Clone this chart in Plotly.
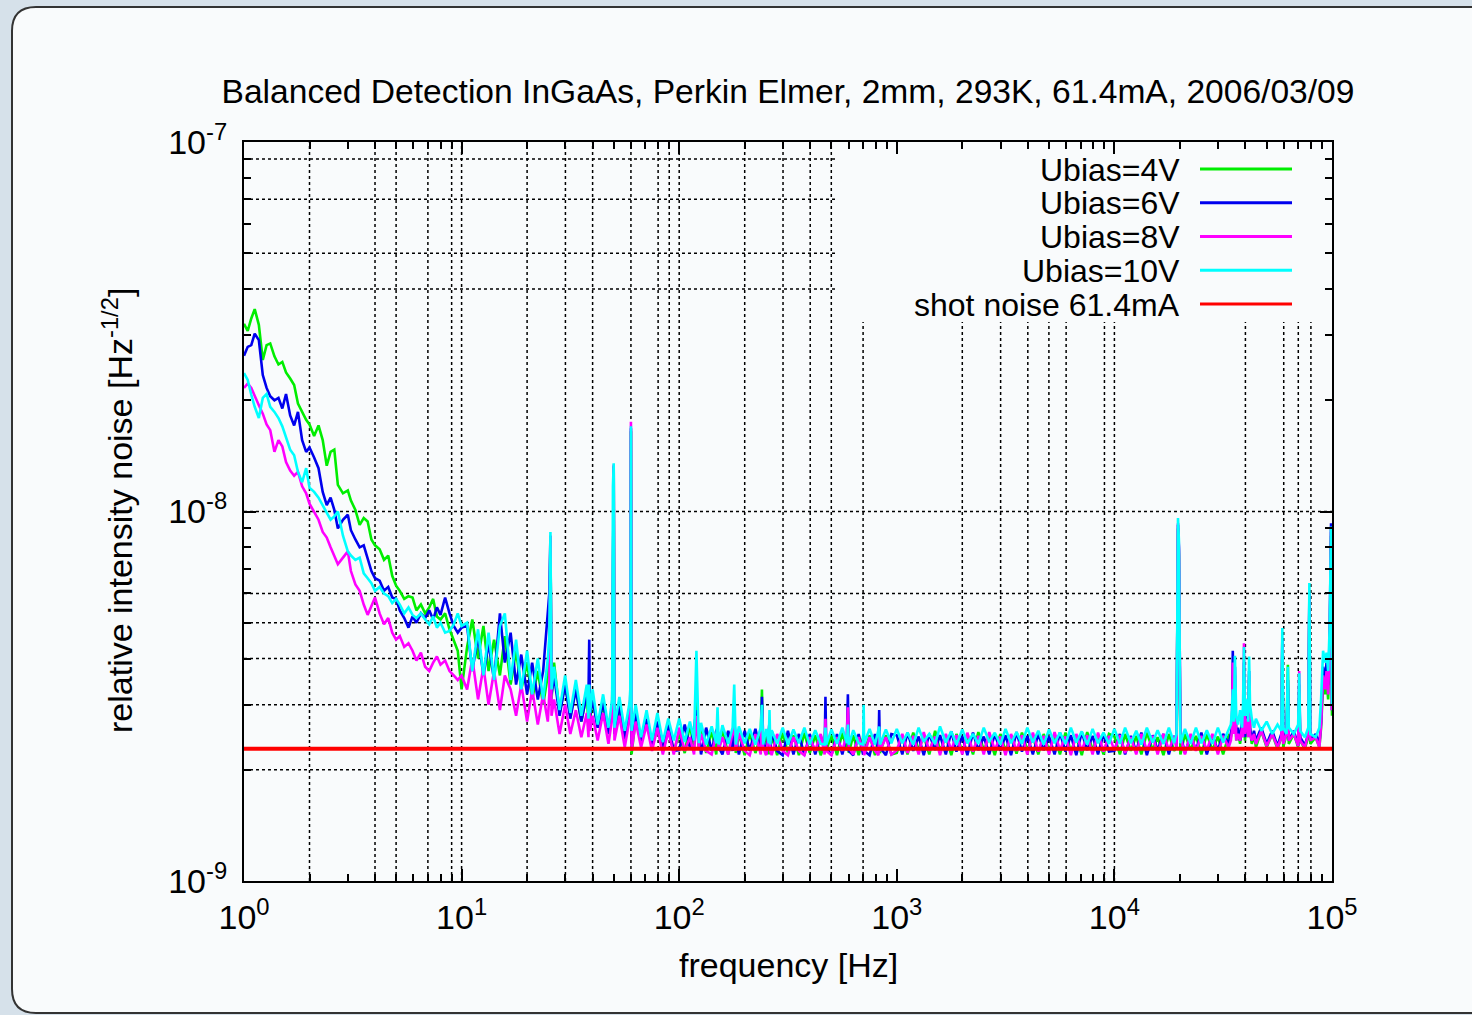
import plotly.graph_objects as go

# ---------------- data (RIN values in units of 1e-9 Hz^-1/2) ----------------
SCALE = 1e-9

freq_hz = [
    # 1 - 10 Hz
    1.00, 1.04, 1.08, 1.12, 1.17, 1.22, 1.27, 1.32, 1.38, 1.44,
    1.50, 1.56, 1.63, 1.70, 1.77, 1.85, 1.93, 2.0, 2.1, 2.2,
    2.3, 2.4, 2.5, 2.6, 2.7, 2.85, 3.0, 3.1, 3.25, 3.4,
    3.55, 3.7, 3.85, 4.0, 4.2, 4.4, 4.6, 4.8, 5.0, 5.2,
    5.45, 5.7, 5.95, 6.2, 6.5, 6.8, 7.1, 7.4, 7.7, 8.0,
    8.4, 8.8, 9.2, 9.6, 10.0,
    # 10 - 100 Hz
    10.6, 11.2, 11.9, 12.6, 13.3, 14.1, 15.0, 15.8, 16.8, 17.8,
    18.8, 20.0, 21.1, 22.4, 23.7, 24.9, 25.3, 25.6, 25.9, 26.6,
    28.2, 29.9, 31.6, 33.5, 35.5, 37.6, 38.3, 38.6, 38.9, 40.0,
    42.2, 44.7, 47.3, 49.2, 49.6, 50.0, 50.4, 53.1, 56.2, 59.2,
    59.6, 60.0, 60.4, 63.1, 66.8, 70.8, 75.0, 79.4, 84.1, 89.1,
    94.4,
    # 100 Hz - 1 kHz
    100, 106, 112, 117, 120, 123, 126, 133, 141, 148,
    150, 152, 158, 168, 176, 179, 182, 188, 200, 211,
    224, 237, 240, 243, 251, 258, 260, 262, 266, 282,
    299, 316, 335, 355, 376, 398, 422, 447, 466, 470,
    474, 501, 531, 562, 590, 596, 602, 631, 668, 700,
    704, 708, 750, 794, 824, 830, 836, 891, 944,
    # 1 kHz - 10 kHz
    1000, 1060, 1120, 1190, 1260, 1330, 1410, 1500, 1580, 1680,
    1780, 1880, 2000, 2110, 2240, 2370, 2510, 2660, 2820, 2990,
    3160, 3350, 3550, 3760, 3980, 4220, 4470, 4730, 5010, 5310,
    5620, 5960, 6310, 6680, 7080, 7500, 7940, 8410, 8910, 9440,
    # 10 kHz - 100 kHz
    10000, 10600, 11200, 11900, 12600, 13300, 14100, 15000, 15800, 16800,
    17800, 18800, 19300, 19600, 19800, 20100, 21100, 22400, 23700, 25100,
    26600, 28200, 29900, 31600, 33500, 34300, 34700, 35000, 35400, 35800,
    36300, 37000, 37800, 38600, 39000, 39400, 39800, 40600, 41200, 41600,
    42000, 42800, 43800, 44700, 47300, 50100, 53100, 56200, 58500, 59100,
    59700, 61800, 62700, 63300, 66800, 69900, 70700, 71400, 75000, 77800,
    78700, 79500, 84100, 87500, 89100, 91000, 93000, 94400, 96000, 97500,
    99000, 100000,
]

rin_4V = [
    32.2, 30.8, 33.3, 35.3, 32.0, 25.7, 28.2, 28.5, 26.3, 25.0,
    25.4, 23.8, 22.9, 22.0, 19.6, 18.6, 17.7, 17.2, 16.0, 17.1,
    15.6, 13.3, 14.5, 14.7, 11.8, 11.2, 11.4, 10.7, 10.1, 9.2,
    9.6, 9.4, 8.4, 8.1, 7.9, 7.4, 7.6, 6.7, 6.3, 6.1,
    5.8, 5.9, 5.85, 5.4, 5.6, 5.3, 5.5, 5.8, 5.2, 5.1,
    5.3, 4.8, 4.5, 4.2, 3.3,
    4.3, 5.1, 4.0, 4.9, 3.7, 4.5, 3.6, 4.6, 3.4, 4.2,
    3.3, 3.9, 3.1, 3.7, 3.0, 3.6, 4.0, 8.5, 3.1, 3.9,
    2.85, 3.4, 2.8, 3.3, 2.7, 3.2, 2.65, 3.1, 2.7, 3.15,
    2.6, 3.0, 2.5, 2.9, 11.2, 13.2, 2.5, 2.9, 2.45, 2.8,
    3.0, 16.5, 2.2, 2.75, 2.4, 2.7, 2.3, 2.6, 2.25, 2.55,
    2.25,
    2.5, 2.22, 2.65, 2.28, 3.1, 2.26, 2.6, 2.22, 2.55, 2.2,
    2.5, 2.26, 2.58, 2.2, 2.52, 2.6, 2.22, 2.5, 2.19, 2.52,
    2.22, 2.48, 3.3, 2.26, 2.52, 2.2, 2.55, 2.26, 2.48, 2.19,
    2.52, 2.22, 2.48, 2.19, 2.52, 2.22, 2.48, 2.19, 2.35, 2.6,
    2.26, 2.48, 2.19, 2.52, 2.26, 2.7, 2.22, 2.48, 2.19, 2.45,
    2.55, 2.22, 2.48, 2.19, 2.45, 2.52, 2.22, 2.48, 2.2,
    2.22, 2.48, 2.2, 2.52, 2.26, 2.47, 2.2, 2.55, 2.25, 2.46,
    2.19, 2.5, 2.24, 2.47, 2.2, 2.53, 2.26, 2.45, 2.19, 2.5,
    2.25, 2.48, 2.21, 2.52, 2.26, 2.46, 2.2, 2.5, 2.25, 2.47,
    2.2, 2.52, 2.24, 2.46, 2.19, 2.53, 2.26, 2.48, 2.2, 2.5,
    2.46, 2.2, 2.5, 2.25, 2.47, 2.2, 2.52, 2.26, 2.45, 2.19,
    2.5, 2.25, 2.3, 9.0, 7.6, 2.2, 2.5, 2.26, 2.47, 2.2,
    2.5, 2.26, 2.46, 2.2, 2.48, 2.45, 2.55, 3.6, 2.5, 3.4,
    2.4, 2.55, 2.35, 2.6, 2.45, 3.7, 2.4, 2.7, 2.45, 3.5,
    2.55, 2.35, 2.5, 2.3, 2.55, 2.3, 2.5, 2.28, 2.45, 4.2,
    2.3, 2.5, 3.85, 2.35, 2.5, 2.3, 3.3, 2.4, 2.28, 2.45,
    5.6, 2.35, 2.45, 2.3, 2.6, 3.4, 3.2, 3.6, 3.1, 4.0,
    8.6, 2.8,
]

rin_6V = [
    26.4, 27.9, 28.2, 30.3, 29.1, 23.4, 21.6, 20.5, 20.0, 20.3,
    19.0, 20.8, 18.2, 17.1, 18.6, 15.6, 14.5, 14.9, 14.0, 13.1,
    11.3, 10.4, 10.9, 10.1, 9.0, 9.5, 9.8, 8.9, 8.4, 8.0,
    8.1, 7.4, 6.9, 6.6, 6.5, 6.1, 6.25, 5.85, 5.8, 5.4,
    5.15, 4.85, 5.2, 5.0, 5.3, 5.15, 5.4, 5.1, 5.5, 5.25,
    5.85, 5.3, 4.9, 4.7, 4.85,
    4.9, 3.7, 4.6, 3.6, 4.4, 3.5, 5.3, 3.9, 4.7, 3.4,
    4.1, 3.2, 3.9, 3.1, 3.7, 5.6, 6.0, 8.6, 3.2, 3.6,
    2.8, 3.4, 2.75, 3.3, 2.7, 3.2, 3.2, 4.5, 2.8, 3.1,
    2.6, 3.05, 2.5, 2.95, 11.4, 13.3, 2.5, 3.0, 2.4, 2.9,
    3.1, 16.8, 2.35, 2.85, 2.35, 2.75, 2.3, 2.7, 2.25, 2.65,
    2.25,
    2.26, 2.65, 2.3, 2.6, 2.9, 2.55, 2.2, 2.6, 2.25, 2.55,
    2.6, 2.3, 2.2, 2.55, 2.25, 2.7, 2.45, 2.2, 2.55, 2.25,
    2.58, 2.24, 3.15, 2.45, 2.2, 2.55, 2.7, 2.25, 2.55, 2.25,
    2.19, 2.55, 2.2, 2.5, 2.19, 2.5, 2.2, 2.48, 2.25, 3.15,
    2.3, 2.19, 2.5, 2.2, 2.48, 3.2, 2.25, 2.19, 2.5, 2.2,
    2.6, 2.25, 2.19, 2.5, 2.25, 2.9, 2.3, 2.19, 2.5,
    2.48, 2.2, 2.52, 2.25, 2.46, 2.19, 2.5, 2.26, 2.48, 2.2,
    2.54, 2.24, 2.47, 2.19, 2.52, 2.26, 2.46, 2.2, 2.5, 2.25,
    2.48, 2.19, 2.53, 2.24, 2.47, 2.2, 2.5, 2.26, 2.46, 2.2,
    2.52, 2.24, 2.48, 2.19, 2.53, 2.26, 2.47, 2.2, 2.5, 2.24,
    2.25, 2.5, 2.2, 2.47, 2.24, 2.52, 2.19, 2.48, 2.26, 2.5,
    2.2, 2.47, 2.35, 9.2, 7.9, 2.5, 2.22, 2.48, 2.26, 2.52,
    2.2, 2.47, 2.26, 2.5, 2.35, 2.5, 2.6, 4.2, 2.55, 3.8,
    2.45, 2.6, 2.4, 2.7, 2.5, 3.9, 2.45, 2.8, 2.5, 3.7,
    2.6, 2.4, 2.55, 2.4, 2.6, 2.35, 2.55, 2.32, 2.5, 4.5,
    2.4, 2.55, 3.5, 2.4, 2.55, 2.32, 3.4, 2.45, 2.33, 2.5,
    6.0, 2.4, 2.5, 2.35, 2.7, 3.8, 3.5, 3.9, 3.4, 4.5,
    9.3, 2.9,
]

rin_8V = [
    21.6, 22.2, 21.6, 20.5, 19.4, 18.4, 17.2, 16.6, 14.5, 15.6,
    15.0, 13.6, 12.9, 12.5, 12.8, 11.7, 11.2, 10.5, 10.0, 9.5,
    8.8, 8.5, 8.0, 7.6, 7.2, 7.5, 7.8, 6.9, 6.35, 6.1,
    5.6, 5.25, 5.55, 5.85, 5.3, 4.95, 5.15, 4.7, 4.5, 4.6,
    4.3, 4.4, 4.2, 3.95, 4.15, 3.8, 3.7, 3.9, 4.05, 3.85,
    3.95, 3.7, 3.6, 3.5, 3.6,
    3.3, 4.0, 3.1, 3.8, 3.0, 3.7, 2.9, 3.6, 3.3, 2.8,
    3.4, 2.7, 3.3, 2.65, 3.2, 2.7, 3.2, 8.6, 2.8, 3.1,
    2.5, 3.0, 2.5, 2.9, 2.45, 2.85, 2.45, 3.2, 2.55, 2.8,
    2.4, 2.85, 2.35, 2.75, 11.5, 13.4, 2.4, 2.8, 2.3, 2.75,
    3.2, 17.5, 2.25, 2.7, 2.3, 2.65, 2.25, 2.6, 2.2, 2.55,
    2.2,
    2.6, 2.25, 2.45, 2.2, 2.8, 2.3, 2.5, 2.25, 2.2, 2.5,
    2.55, 2.26, 2.45, 2.2, 2.5, 2.65, 2.25, 2.52, 2.25, 2.19,
    2.5, 2.2, 2.9, 2.3, 2.19, 2.5, 2.6, 2.25, 2.19, 2.5,
    2.25, 2.19, 2.45, 2.25, 2.19, 2.45, 2.25, 2.5, 2.2, 2.75,
    2.25, 2.19, 2.45, 2.25, 2.5, 2.95, 2.3, 2.2, 2.45, 2.25,
    2.5, 2.19, 2.45, 2.25, 2.19, 2.55, 2.25, 2.45, 2.2,
    2.26, 2.5, 2.22, 2.47, 2.2, 2.53, 2.25, 2.46, 2.19, 2.5,
    2.26, 2.48, 2.2, 2.52, 2.24, 2.47, 2.2, 2.53, 2.26, 2.46,
    2.19, 2.5, 2.25, 2.48, 2.2, 2.52, 2.24, 2.47, 2.2, 2.53,
    2.26, 2.46, 2.19, 2.5, 2.25, 2.48, 2.2, 2.52, 2.24, 2.47,
    2.26, 2.48, 2.22, 2.45, 2.2, 2.5, 2.26, 2.47, 2.2, 2.5,
    2.26, 2.46, 2.28, 9.3, 8.0, 2.46, 2.2, 2.5, 2.25, 2.47,
    2.26, 2.5, 2.2, 2.47, 2.3, 2.4, 2.55, 3.9, 2.5, 3.6,
    2.4, 2.5, 2.4, 2.6, 2.45, 4.4, 2.5, 2.75, 2.45, 3.6,
    2.5, 2.4, 2.5, 2.35, 2.55, 2.32, 2.5, 2.3, 2.45, 4.4,
    2.35, 2.5, 3.3, 2.4, 2.5, 2.32, 3.7, 2.4, 2.3, 2.5,
    5.8, 2.4, 2.45, 2.3, 2.65, 3.6, 3.3, 3.7, 3.2, 4.3,
    8.8, 2.9,
]

rin_10V = [
    23.7, 22.7, 20.7, 19.2, 17.9, 20.3, 20.8, 19.2, 18.6, 17.9,
    17.0, 15.8, 14.7, 14.2, 12.8, 12.0, 13.1, 11.6, 11.3, 10.9,
    10.4, 10.0, 9.5, 9.7, 10.0, 8.6, 7.8, 7.6, 7.4, 7.5,
    6.8, 6.6, 6.4, 6.1, 6.25, 6.0, 5.9, 5.65, 5.8, 5.6,
    5.3, 5.5, 5.25, 5.15, 5.3, 5.1, 4.95, 5.2, 4.85, 5.0,
    4.7, 4.75, 4.95, 5.3, 4.9,
    5.0, 3.7, 4.8, 3.6, 4.7, 3.5, 4.9, 5.3, 3.5, 4.5,
    3.3, 4.2, 3.2, 4.0, 3.1, 4.0, 4.6, 8.8, 3.3, 3.8,
    2.9, 3.6, 2.85, 3.5, 2.8, 3.4, 2.75, 3.4, 2.85, 3.3,
    2.65, 3.2, 2.6, 3.1, 11.7, 13.5, 2.6, 3.15, 2.55, 3.05,
    3.3, 17.0, 2.55, 3.0, 2.45, 2.9, 2.4, 2.85, 2.38, 2.75,
    2.4,
    2.75, 2.38, 2.7, 2.4, 4.2, 2.36, 2.68, 2.34, 2.62, 2.36,
    2.95, 2.34, 2.64, 2.35, 2.6, 3.4, 2.34, 2.62, 2.36, 2.58,
    2.34, 2.6, 3.0, 2.34, 2.58, 2.36, 2.9, 2.34, 2.56, 2.35,
    2.6, 2.34, 2.57, 2.36, 2.6, 2.34, 2.56, 2.35, 2.34, 2.6,
    2.34, 2.57, 2.35, 2.6, 2.36, 2.65, 2.34, 2.56, 2.36, 2.34,
    3.0, 2.36, 2.58, 2.34, 2.55, 2.62, 2.34, 2.57, 2.36,
    2.58, 2.36, 2.52, 2.34, 2.6, 2.38, 2.5, 2.35, 2.62, 2.37,
    2.54, 2.34, 2.57, 2.36, 2.5, 2.35, 2.6, 2.38, 2.52, 2.34,
    2.58, 2.36, 2.53, 2.35, 2.6, 2.37, 2.55, 2.34, 2.57, 2.36,
    2.52, 2.35, 2.6, 2.37, 2.54, 2.34, 2.58, 2.36, 2.52, 2.35,
    2.58, 2.35, 2.6, 2.36, 2.55, 2.34, 2.6, 2.37, 2.56, 2.35,
    2.6, 2.36, 2.5, 9.6, 8.3, 2.36, 2.58, 2.35, 2.6, 2.36,
    2.56, 2.35, 2.6, 2.37, 2.55, 2.65, 2.9, 3.3, 2.7, 4.07,
    2.8, 2.65, 2.9, 2.6, 3.0, 4.3, 2.8, 3.1, 2.7, 4.05,
    3.0, 2.75, 2.6, 2.75, 2.55, 2.7, 2.5, 2.65, 2.55, 4.84,
    2.6, 2.5, 3.8, 2.6, 2.5, 2.65, 3.65, 2.55, 2.45, 2.6,
    6.4, 2.5, 2.45, 2.6, 3.1, 4.2, 3.9, 4.15, 3.7, 4.8,
    9.1, 3.0,
]

shot_freq = [1, 100000]
shot_rin = [2.28, 2.28]

series_names = ["Ubias=4V", "Ubias=6V", "Ubias=8V", "Ubias=10V", "shot noise 61.4mA"]
series_colors = ["#00ee00", "#0000ee", "#ff00ff", "#00ffff", "#ff0000"]

x_tick_vals = [1, 10, 100, 1000, 10000, 100000]
x_tick_text = ["10<sup>0</sup>", "10<sup>1</sup>", "10<sup>2</sup>", "10<sup>3</sup>",
               "10<sup>4</sup>", "10<sup>5</sup>"]
y_tick_vals = [1e-9, 1e-8, 1e-7]
y_tick_text = ["10<sup>-9</sup>", "10<sup>-8</sup>", "10<sup>-7</sup>"]

# dotted grid lines as they appear in the original (gnuplot) figure
grid_x = [2, 4, 5, 7, 9, 10, 20, 30, 40, 60, 80, 90, 100, 200, 300, 400, 500, 700,
          2000, 3000, 4000, 5000, 6000, 9000, 10000, 40000, 60000, 70000, 80000]
grid_y = [9e-8, 7e-8, 5e-8, 4e-8, 1e-8, 6e-9, 5e-9, 4e-9, 3e-9, 2e-9]

# ---------------- layout helpers ----------------
W, H = 1472, 1015
PL, PR, PT, PB = 244, 1332, 142, 881
FONT = "Liberation Sans, Arial, Helvetica, sans-serif"
FS = 34
FS_TITLE = 33.6
FS_KEY = 32


def pxx(px):
    return (px - PL) / (PR - PL)


def pxy(py):
    return (PB - py) / (PB - PT)


n = len(freq_hz)
assert all(len(s) == n for s in (rin_4V, rin_6V, rin_8V, rin_10V)), \
    [len(s) for s in (freq_hz, rin_4V, rin_6V, rin_8V, rin_10V)]

fig = go.Figure()
for name, vals, col in zip(series_names[:4], [rin_4V, rin_6V, rin_8V, rin_10V], series_colors[:4]):
    fig.add_trace(go.Scatter(x=freq_hz, y=[v * SCALE for v in vals], mode="lines",
                             name=name, line=dict(color=col, width=2.6), showlegend=False))
fig.add_trace(go.Scatter(x=shot_freq, y=[v * SCALE for v in shot_rin], mode="lines",
                         name=series_names[4], line=dict(color=series_colors[4], width=4),
                         showlegend=False))

shapes = []
# rounded frame
L, R, T, B = pxx(12), pxx(1500), pxy(7), pxy(1013)
rx, ry = 24 / (PR - PL), 24 / (PB - PT)
frame_path = (f"M {L + rx},{T} L {R},{T} L {R},{B} L {L + rx},{B} "
              f"Q {L},{B} {L},{B + ry} L {L},{T - ry} Q {L},{T} {L + rx},{T} Z")
shapes.append(dict(type="path", path=frame_path, xref="paper", yref="paper",
                   line=dict(color="#333333", width=2), fillcolor="#f9fbfc", layer="below"))
# grid
for gx in grid_x:
    shapes.append(dict(type="line", xref="x", yref="paper", x0=gx, x1=gx, y0=0, y1=1,
                       line=dict(color="black", width=1.5, dash="3px,3px"), layer="below"))
for gy in grid_y:
    shapes.append(dict(type="line", xref="paper", yref="y", x0=0, x1=1, y0=gy, y1=gy,
                       line=dict(color="black", width=1.5, dash="3px,3px"), layer="below"))
# opaque key box (hides grid behind the key)
key_left_frac = pxx(835)
key_bottom_frac = pxy(322)
shapes.append(dict(type="rect", xref="x", yref="y",
                   x0=10 ** (5 * key_left_frac), x1=10 ** 5.2,
                   y0=10 ** (-9 + 2 * key_bottom_frac), y1=10 ** -6.8,
                   line=dict(width=0), fillcolor="#f9fbfc", layer="below"))

annotations = []
key_rows_py = [169, 202.75, 236.5, 270.25, 304]
for name, col, py in zip(series_names, series_colors, key_rows_py):
    annotations.append(dict(text=name, xref="paper", yref="paper", x=pxx(1181), y=pxy(py),
                            xanchor="right", yanchor="middle", showarrow=False,
                            height=31, valign="middle", borderpad=0,
                            font=dict(family=FONT, size=FS_KEY, color="black")))
    shapes.append(dict(type="line", xref="paper", yref="paper", x0=pxx(1200), x1=pxx(1292),
                       y0=pxy(py), y1=pxy(py), line=dict(color=col, width=3), layer="above"))

annotations.append(dict(text="frequency [Hz]", xref="paper", yref="paper", x=pxx(788), y=pxy(965),
                        xanchor="center", yanchor="middle", showarrow=False,
                        font=dict(family=FONT, size=FS, color="black")))
annotations.append(dict(text="relative intensity noise [Hz<sup>-1/2</sup>]", xref="paper",
                        yref="paper", x=pxx(118), y=pxy(511), textangle=-90,
                        xanchor="center", yanchor="middle", showarrow=False,
                        font=dict(family=FONT, size=FS, color="black")))

minor_x = [m * d for d in (1, 10, 100, 1000, 10000) for m in range(2, 10)]
minor_y = [m * d for d in (1e-9, 1e-8) for m in range(2, 10)]

axis_common = dict(showline=True, linecolor="black", linewidth=2, mirror="ticks",
                   ticks="inside", ticklen=12, tickwidth=2, tickcolor="black",
                   showgrid=False, zeroline=False,
                   tickfont=dict(family=FONT, size=FS, color="black"))

fig.update_layout(
    width=W, height=H, autosize=False,
    margin=dict(l=PL, r=W - PR, t=PT, b=H - PB),
    paper_bgcolor="#d6e1ea", plot_bgcolor="rgba(0,0,0,0)",
    title=dict(text="Balanced Detection InGaAs, Perkin Elmer, 2mm, 293K, 61.4mA, 2006/03/09",
               x=0.5, xref="paper", xanchor="center",
               y=1 - 91 / H, yref="container", yanchor="middle",
               font=dict(family=FONT, size=FS_TITLE, color="black")),
    xaxis=dict(type="log", range=[0, 5], tickmode="array", tickvals=x_tick_vals,
               ticktext=x_tick_text, ticklabelstandoff=5,
               minor=dict(tickmode="array", tickvals=minor_x, ticks="inside", ticklen=7,
                          tickwidth=1.5, tickcolor="black", showgrid=False),
               **axis_common),
    yaxis=dict(type="log", range=[-9, -7], tickmode="array", tickvals=y_tick_vals,
               ticktext=y_tick_text, ticklabelstandoff=8,
               minor=dict(tickmode="array", tickvals=minor_y, ticks="inside", ticklen=7,
                          tickwidth=1.5, tickcolor="black", showgrid=False),
               **axis_common),
    shapes=shapes,
    annotations=annotations,
    showlegend=False,
)

fig.write_html("out.html")
